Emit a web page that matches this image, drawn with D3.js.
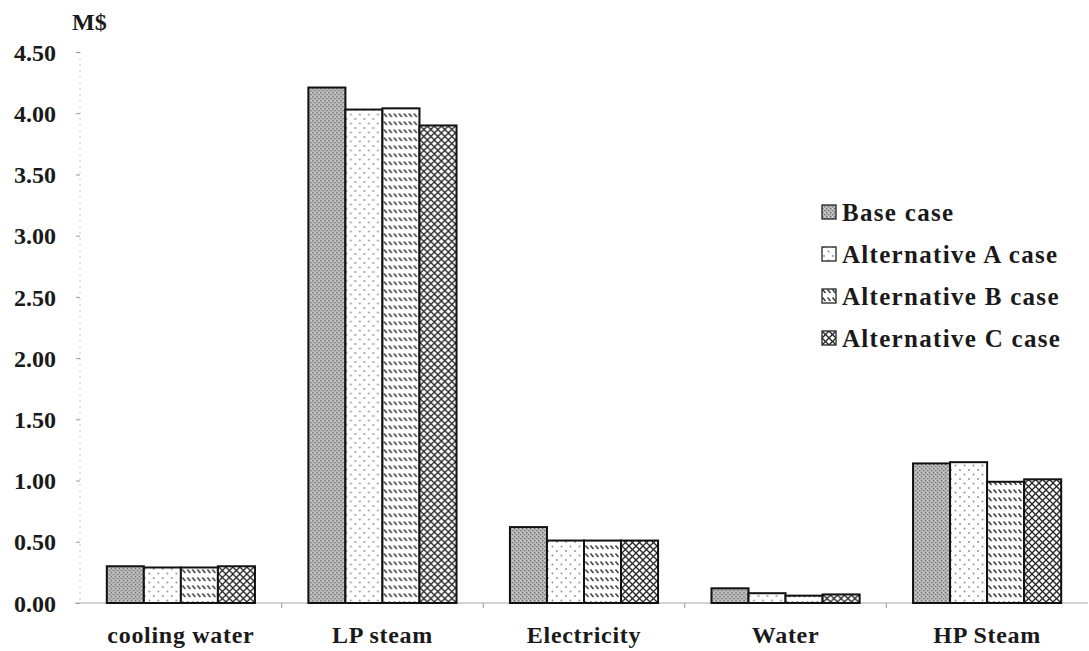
<!DOCTYPE html>
<html>
<head>
<meta charset="utf-8">
<script src="https://cdn.jsdelivr.net/npm/d3@7/dist/d3.min.js"></script>
<style>
  html, body { margin: 0; padding: 0; background: #fff; }
  svg { display: block; }
  text { font-family: "Liberation Serif", "Times New Roman", serif; font-weight: bold; fill: #1a1a1a; }
</style>
</head>
<body>
<svg id="chart" width="1089" height="651"></svg>
<script>
const categories = ["cooling water", "LP steam", "Electricity", "Water", "HP Steam"];
const seriesNames = ["Base case", "Alternative A case", "Alternative B case", "Alternative C case"];
const baseCase = [0.30, 4.21, 0.62, 0.12, 1.14];
const altA = [0.29, 4.03, 0.51, 0.08, 1.15];
const altB = [0.29, 4.04, 0.51, 0.06, 0.99];
const altC = [0.30, 3.90, 0.51, 0.07, 1.01];
const yTicks = [0, 0.5, 1, 1.5, 2, 2.5, 3, 3.5, 4, 4.5];
const yUnit = "M$";

const seriesValues = [baseCase, altA, altB, altC];
const svg = d3.select("#chart");
const defs = svg.append("defs");

// Patterns
const pBase = defs.append("pattern").attr("id", "pat0").attr("patternUnits", "userSpaceOnUse").attr("width", 4).attr("height", 4);
pBase.append("rect").attr("width", 4).attr("height", 4).attr("fill", "#b8b8b8");
pBase.append("rect").attr("x", 0).attr("y", 0).attr("width", 1.3).attr("height", 1.3).attr("fill", "#6a6a6a");
pBase.append("rect").attr("x", 2).attr("y", 2).attr("width", 1.3).attr("height", 1.3).attr("fill", "#7a7a7a");
pBase.append("rect").attr("x", 2).attr("y", 0).attr("width", 1).attr("height", 1).attr("fill", "#dcdcdc");

const pA = defs.append("pattern").attr("id", "pat1").attr("patternUnits", "userSpaceOnUse").attr("width", 9).attr("height", 9);
pA.append("rect").attr("width", 9).attr("height", 9).attr("fill", "#fff");
pA.append("circle").attr("cx", 2).attr("cy", 2).attr("r", 0.9).attr("fill", "#8a8a8a");
pA.append("circle").attr("cx", 6.5).attr("cy", 6.5).attr("r", 0.9).attr("fill", "#8a8a8a");

const pB = defs.append("pattern").attr("id", "pat2").attr("patternUnits", "userSpaceOnUse").attr("width", 5).attr("height", 8);
pB.append("rect").attr("width", 5).attr("height", 8).attr("fill", "#fff");
pB.append("path").attr("d", "M0.5,1.5 L3.5,5").attr("stroke", "#333").attr("stroke-width", 1.4);

const pC = defs.append("pattern").attr("id", "pat3").attr("patternUnits", "userSpaceOnUse").attr("width", 7).attr("height", 7);
pC.append("rect").attr("width", 7).attr("height", 7).attr("fill", "#fff");
pC.append("path").attr("d", "M-1,-1 L8,8 M-1,6 L1,8 M6,-1 L8,1").attr("stroke", "#222").attr("stroke-width", 1.3);
pC.append("path").attr("d", "M8,-1 L-1,8 M1,-1 L-1,1 M8,6 L6,8").attr("stroke", "#222").attr("stroke-width", 1.3);

const patIds = ["pat0", "pat1", "pat2", "pat3"];

const plotLeft = 80, plotRight = 1088;
const y = d3.scaleLinear().domain([0, 4.5]).range([603, 52]);
const x0 = d3.scaleBand().domain(categories).range([plotLeft, plotRight]).paddingInner(0.265).paddingOuter(0.133);
const x1 = d3.scaleBand().domain(d3.range(seriesNames.length)).range([0, x0.bandwidth()]);

// y axis (faint dotted line with small ticks)
svg.append("line").attr("x1", plotLeft).attr("x2", plotLeft).attr("y1", y(4.5)).attr("y2", y(0))
  .attr("stroke", "#ccc").attr("stroke-width", 1).attr("stroke-dasharray", "2,4");
const yAxis = d3.axisLeft(y).tickValues(yTicks).tickFormat(d3.format(".2f")).tickSize(4).tickPadding(20);
const gy = svg.append("g").attr("transform", `translate(${plotLeft},0)`).call(yAxis);
gy.select(".domain").remove();
gy.selectAll(".tick line").attr("stroke", "#999");
gy.selectAll(".tick text").attr("font-size", 24).attr("fill", "#1a1a1a")
  .attr("font-family", "Liberation Serif, serif").attr("font-weight", "bold").attr("dy", "0.34em");

// x axis baseline
const xAxis = d3.axisBottom(x0).tickSize(0).tickPadding(22);
const gx = svg.append("g").attr("transform", `translate(0,${y(0)})`).call(xAxis);
gx.select(".domain").attr("stroke", "#aaa").attr("d", `M${plotLeft - 5},0H${plotRight}`);
gx.selectAll(".tick text").attr("font-size", 24).attr("fill", "#1a1a1a").attr("letter-spacing", "0.7px")
  .attr("font-family", "Liberation Serif, serif").attr("font-weight", "bold").attr("dy", "0.75em");
// boundary ticks
const bounds = categories.slice(1).map(c => x0(c) - x0.step() * x0.paddingInner() / 2);
gx.selectAll(".btick").data(bounds).enter().append("line")
  .attr("x1", d => d).attr("x2", d => d).attr("y1", 0).attr("y2", 5).attr("stroke", "#999");

// bars
const groups = svg.append("g").selectAll("g").data(categories).enter().append("g")
  .attr("transform", d => `translate(${x0(d)},0)`);
groups.selectAll("rect").data((d, i) => seriesValues.map((s, k) => ({ k, v: s[i] }))).enter().append("rect")
  .attr("x", d => x1(d.k))
  .attr("y", d => y(d.v))
  .attr("width", x1.bandwidth())
  .attr("height", d => y(0) - y(d.v))
  .attr("fill", d => `url(#${patIds[d.k]})`)
  .attr("stroke", "#111").attr("stroke-width", 2);

// unit label
svg.append("text").attr("x", 72).attr("y", 30).attr("font-size", 24).text(yUnit);

// legend
const legend = svg.append("g").attr("transform", "translate(822,212)");
const items = legend.selectAll("g").data(seriesNames).enter().append("g")
  .attr("transform", (d, i) => `translate(0,${i * 42})`);
items.append("rect").attr("x", 0).attr("y", -7).attr("width", 14).attr("height", 14)
  .attr("fill", (d, i) => `url(#${patIds[i]})`).attr("stroke", "#222").attr("stroke-width", 1.3);
items.append("text").attr("x", 20).attr("y", 0).attr("dy", "0.35em").attr("font-size", 25)
  .attr("letter-spacing", "1.3px").text(d => d);
</script>
</body>
</html>
